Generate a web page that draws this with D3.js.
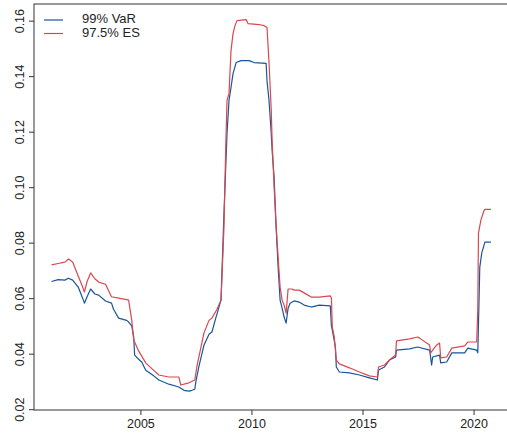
<!DOCTYPE html>
<meta charset="utf-8">
<style>
    body { margin: 0; background: #fff; }
    svg { font-family: "Liberation Sans", Arial, sans-serif; }
    .line { fill: none; stroke-width: 1.2; stroke-linejoin: round; }
    .axis path, .axis line { stroke: #333; }
    .axis text { fill: #222; font-size: 12.5px; }
</style>
<body>
<script src="https://d3js.org/d3.v7.min.js"></script>
<script>
    // 99% VaR
    let varYears = [2001.00, 2001.30, 2001.60, 2001.76, 2001.95, 2002.20, 2002.40, 2002.48, 2002.60, 2002.76,
        2002.95, 2003.12, 2003.43, 2003.70, 2003.79, 2004.02, 2004.38, 2004.47, 2004.61, 2004.70,
        2004.74, 2004.92, 2005.06, 2005.24, 2005.60, 2005.83, 2006.28, 2006.73, 2006.96, 2007.18,
        2007.32, 2007.45, 2007.50, 2007.63, 2007.86, 2008.09, 2008.22, 2008.40, 2008.63, 2008.76,
        2008.90, 2008.99, 2009.08, 2009.17, 2009.31, 2009.53, 2009.89, 2010.12, 2010.66, 2010.70,
        2010.79, 2010.89, 2010.93, 2011.02, 2011.11, 2011.20, 2011.29, 2011.38, 2011.47, 2011.56,
        2011.65, 2011.74, 2011.92, 2012.15, 2012.37, 2012.69, 2013.05, 2013.55, 2013.60, 2013.64,
        2013.78, 2013.82, 2013.96, 2014.41, 2014.86, 2015.31, 2015.67, 2015.72, 2015.99, 2016.21,
        2016.49, 2016.53, 2017.12, 2017.48, 2018.02, 2018.07, 2018.11, 2018.16, 2018.47, 2018.52,
        2018.79, 2019.02, 2019.60, 2019.74, 2020.14, 2020.19, 2020.28, 2020.37, 2020.51, 2020.78];
    let varValues = [0.0660, 0.0667, 0.0665, 0.0672, 0.0665, 0.0640, 0.0600, 0.0582, 0.0605, 0.0633,
        0.0615, 0.0611, 0.0590, 0.0582, 0.0560, 0.0528, 0.0520, 0.0514, 0.0500, 0.0460,
        0.0395, 0.0380, 0.0370, 0.0340, 0.0320, 0.0305, 0.0290, 0.0280, 0.0268, 0.0265,
        0.0268, 0.0272, 0.0300, 0.0352, 0.0430, 0.0470, 0.0478, 0.0530, 0.0593, 0.0900,
        0.1194, 0.1313, 0.1359, 0.1409, 0.1449, 0.1456, 0.1456, 0.1449, 0.1446, 0.1384,
        0.1313, 0.1194, 0.1133, 0.1036, 0.0856, 0.0712, 0.0593, 0.0564, 0.0532, 0.0510,
        0.0564, 0.0582, 0.0590, 0.0586, 0.0575, 0.0568, 0.0575, 0.0572, 0.0500, 0.0485,
        0.0424, 0.0352, 0.0334, 0.0331, 0.0323, 0.0313, 0.0305, 0.0341, 0.0352, 0.0377,
        0.0388, 0.0413, 0.0417, 0.0424, 0.0413, 0.0385, 0.0359, 0.0388, 0.0395, 0.0367,
        0.0370, 0.0403, 0.0403, 0.0420, 0.0413, 0.0403, 0.0712, 0.0763, 0.0802, 0.0802];

    // 97.5% ES
    let esYears = [2001.00, 2001.30, 2001.60, 2001.76, 2001.95, 2002.20, 2002.40, 2002.48, 2002.60, 2002.76,
        2002.95, 2003.12, 2003.43, 2003.70, 2004.02, 2004.38, 2004.47, 2004.61, 2004.70, 2004.92,
        2005.24, 2005.60, 2005.83, 2006.28, 2006.73, 2006.82, 2007.18, 2007.45, 2007.54, 2007.86,
        2008.09, 2008.22, 2008.45, 2008.63, 2008.76, 2008.85, 2008.90, 2008.99, 2009.08, 2009.17,
        2009.26, 2009.35, 2009.76, 2009.85, 2010.34, 2010.57, 2010.70, 2010.79, 2010.89, 2010.93,
        2011.02, 2011.11, 2011.29, 2011.38, 2011.47, 2011.56, 2011.65, 2011.83, 2011.92, 2012.15,
        2012.37, 2012.69, 2013.05, 2013.55, 2013.60, 2013.64, 2013.73, 2013.82, 2013.96, 2014.41,
        2014.86, 2015.31, 2015.67, 2015.72, 2015.99, 2016.21, 2016.49, 2016.53, 2017.12, 2017.48,
        2017.57, 2018.02, 2018.07, 2018.20, 2018.34, 2018.47, 2018.52, 2018.79, 2019.02, 2019.60,
        2019.74, 2020.14, 2020.19, 2020.22, 2020.33, 2020.46, 2020.51, 2020.78];
    let esValues = [0.0720, 0.0725, 0.0730, 0.0741, 0.0730, 0.0680, 0.0640, 0.0622, 0.0660, 0.0691,
        0.0670, 0.0658, 0.0650, 0.0605, 0.0600, 0.0595, 0.0593, 0.0521, 0.0449, 0.0410,
        0.0367, 0.0340, 0.0323, 0.0316, 0.0316, 0.0287, 0.0295, 0.0305, 0.0352, 0.0474,
        0.0520, 0.0528, 0.0560, 0.0593, 0.0850, 0.1169, 0.1313, 0.1338, 0.1492, 0.1553,
        0.1582, 0.1600, 0.1604, 0.1589, 0.1586, 0.1582, 0.1575, 0.1450, 0.1280, 0.1169,
        0.1000, 0.0860, 0.0640, 0.0593, 0.0575, 0.0546, 0.0633, 0.0633, 0.0629, 0.0629,
        0.0619, 0.0604, 0.0604, 0.0608, 0.0600, 0.0496, 0.0460, 0.0377, 0.0363, 0.0349,
        0.0334, 0.0320, 0.0316, 0.0352, 0.0359, 0.0377, 0.0395, 0.0446, 0.0453, 0.0460,
        0.0456, 0.0431, 0.0403, 0.0417, 0.0431, 0.0438, 0.0385, 0.0388, 0.0420, 0.0428,
        0.0442, 0.0442, 0.0560, 0.0834, 0.0881, 0.0913, 0.0920, 0.0920];

    let xTicks = [2005, 2010, 2015, 2020];
    let yTicks = [0.02, 0.04, 0.06, 0.08, 0.10, 0.12, 0.14, 0.16];
    let seriesNames = ["99% VaR", "97.5% ES"];
    let seriesColors = ["#1a5599", "#d9474f"];

    let width = 507, height = 438;
    let margin = { top: 4, right: -1, bottom: 28, left: 34 };

    let svg = d3.select("body").append("svg")
        .attr("width", width)
        .attr("height", height);

    let xScale = d3.scaleLinear()
        .domain([2000.21, 2021.55])
        .range([margin.left, width - margin.right]);

    let yScale = d3.scaleLinear()
        .domain([0.0197, 0.1660])
        .range([height - margin.bottom, margin.top]);

    // box
    svg.append("rect")
        .attr("x", margin.left)
        .attr("y", margin.top)
        .attr("width", width - margin.right - margin.left)
        .attr("height", height - margin.bottom - margin.top)
        .attr("fill", "none")
        .attr("stroke", "#333");

    let xAxis = svg.append("g")
        .attr("class", "axis")
        .attr("transform", "translate(0," + (height - margin.bottom) + ")")
        .call(d3.axisBottom(xScale).tickValues(xTicks).tickFormat(d3.format("d")).tickSize(5).tickSizeOuter(0));
    xAxis.select(".domain").remove();
    xAxis.selectAll("text").attr("dy", "0.95em").attr("y", 6);

    let yAxis = svg.append("g")
        .attr("class", "axis")
        .attr("transform", "translate(" + margin.left + ",0)")
        .call(d3.axisLeft(yScale).tickValues(yTicks).tickFormat(d3.format(".2f")).tickSize(5).tickSizeOuter(0));
    yAxis.select(".domain").remove();
    yAxis.selectAll("text")
        .attr("x", 0)
        .attr("dy", 0)
        .attr("text-anchor", "middle")
        .attr("transform", function(d) {
            return "translate(-13," + 0 + ") rotate(-90)";
        })
        .attr("dominant-baseline", "middle");

    let line = d3.line()
        .x(function(d) { return xScale(d[0]); })
        .y(function(d) { return yScale(d[1]); });

    let varData = d3.zip(varYears, varValues);
    let esData = d3.zip(esYears, esValues);

    svg.append("path")
        .datum(varData)
        .attr("class", "line")
        .attr("stroke", seriesColors[0])
        .attr("d", line);

    svg.append("path")
        .datum(esData)
        .attr("class", "line")
        .attr("stroke", seriesColors[1])
        .attr("d", line);

    // legend
    let legend = svg.append("g");
    seriesNames.forEach(function(name, i) {
        let y = 20 + i * 13.5;
        legend.append("line")
            .attr("x1", 44).attr("x2", 63)
            .attr("y1", y).attr("y2", y)
            .attr("stroke", seriesColors[i])
            .attr("stroke-width", 1.2);
        legend.append("text")
            .attr("x", 82)
            .attr("y", y)
            .attr("dominant-baseline", "middle")
            .style("font-size", "13px")
            .style("fill", "#222")
            .text(name);
    });
</script>
</body>
